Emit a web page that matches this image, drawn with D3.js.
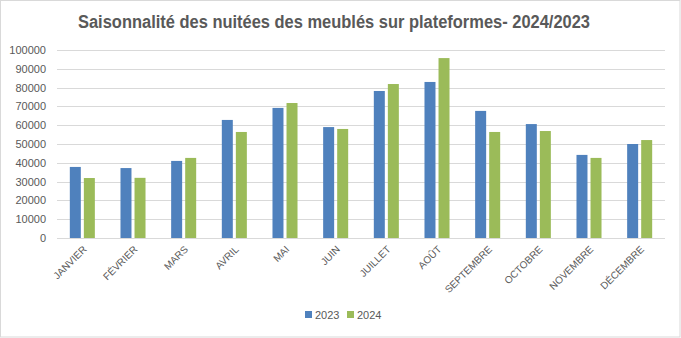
<!DOCTYPE html>
<html>
<head>
<meta charset="utf-8">
<script src="https://cdn.jsdelivr.net/npm/d3@7"></script>
<style>
  html, body { margin: 0; padding: 0; background: #fff; }
  svg { display: block; font-family: "Liberation Sans", Arial, sans-serif; }
</style>
</head>
<body>
<svg id="chart" width="681" height="338"></svg>
<script>
const months = ["JANVIER","FÉVRIER","MARS","AVRIL","MAI","JUIN","JUILLET","AOÛT","SEPTEMBRE","OCTOBRE","NOVEMBRE","DÉCEMBRE"];
const values2023 = [37800, 37200, 41000, 62800, 69200, 59000, 78200, 83000, 67600, 60600, 44200, 50000];
const values2024 = [31900, 32000, 42600, 56400, 71800, 58000, 81900, 95700, 56400, 56900, 42600, 52100];
const seriesNames = ["2023", "2024"];
const yTicks = [0, 10000, 20000, 30000, 40000, 50000, 60000, 70000, 80000, 90000, 100000];
const titleText = "Saisonnalité des nuitées des meublés sur plateformes- 2024/2023";

const colors = ["#4f81bd", "#9bbb59"];
const textColor = "#595959";
const gridColor = "#d9d9d9";

const svg = d3.select("#chart");
const W = 681, H = 338;
const margin = {left: 57, right: 16, top: 50, bottom: 100};

// border
svg.append("rect").attr("x", 0.5).attr("y", 0.5).attr("width", W - 1.5).attr("height", H - 1.5)
  .attr("fill", "#fff").attr("stroke", gridColor);

const x = d3.scaleBand().domain(months).range([57, 665]).paddingInner(0).paddingOuter(0);
const y = d3.scaleLinear().domain([0, 100000]).range([238, 50]);

// gridlines
svg.append("g").selectAll("line").data(yTicks).join("line")
  .attr("x1", 57).attr("x2", 665)
  .attr("y1", d => Math.round(y(d)) + 0.5).attr("y2", d => Math.round(y(d)) + 0.5)
  .attr("stroke", gridColor).attr("stroke-width", 1);

// y axis labels
const yAxis = d3.axisLeft(y).tickValues(yTicks).tickSize(0).tickPadding(0).tickFormat(d3.format("d"));
const gy = svg.append("g").attr("transform", "translate(46,0)").call(yAxis);
gy.select(".domain").remove();
gy.selectAll("text").attr("fill", textColor).style("font-size", "11px")
  .style("font-family", "'Liberation Sans', Arial, sans-serif");

// bars
const band = x.bandwidth();
const barW = band * 0.217;
const gap = band * 0.06;
const x1 = d3.scaleBand().domain(seriesNames).range([0, barW * 2 + gap]).paddingInner(gap / (barW + gap));
const groupOffset = (band - (barW * 2 + gap)) / 2;

const data = months.map((m, i) => ({m, vals: [values2023[i], values2024[i]]}));
const groups = svg.append("g").selectAll("g").data(data).join("g")
  .attr("transform", d => `translate(${x(d.m) + groupOffset},0)`);
groups.selectAll("rect").data(d => d.vals.map((v, j) => ({s: seriesNames[j], v, j}))).join("rect")
  .attr("x", d => x1(d.s))
  .attr("width", x1.bandwidth())
  .attr("y", d => y(d.v))
  .attr("height", d => y(0) - y(d.v))
  .attr("fill", d => colors[d.j]);

// x axis labels
const xAxis = d3.axisBottom(x).tickSize(0).tickPadding(0);
const gx = svg.append("g").attr("transform", "translate(0,238)").call(xAxis);
gx.select(".domain").remove();
gx.selectAll("text")
  .attr("fill", textColor).style("font-size", "10px")
  .style("font-family", "'Liberation Sans', Arial, sans-serif")
  .attr("text-anchor", "end")
  .attr("dy", null).attr("y", 0)
  .attr("transform", "translate(5,12) rotate(-45)");

// baseline
svg.append("line").attr("x1", 57).attr("x2", 665).attr("y1", 238.5).attr("y2", 238.5)
  .attr("stroke", gridColor);

// title
svg.append("text").attr("x", 334).attr("y", 28).attr("text-anchor", "middle")
  .attr("fill", textColor).style("font-size", "18px").style("font-weight", "bold")
  .attr("textLength", 512).attr("lengthAdjust", "spacingAndGlyphs")
  .text(titleText);

// legend
const legend = svg.append("g").attr("transform", "translate(305,311)");
const lx = [0, 42];
seriesNames.forEach((s, i) => {
  const g = legend.append("g").attr("transform", `translate(${lx[i]},0)`);
  g.append("rect").attr("x", 0).attr("y", 0).attr("width", 7).attr("height", 7).attr("fill", colors[i]);
  g.append("text").attr("x", 10).attr("y", 8).attr("fill", textColor).style("font-size", "11px").text(s);
});
</script>
</body>
</html>
